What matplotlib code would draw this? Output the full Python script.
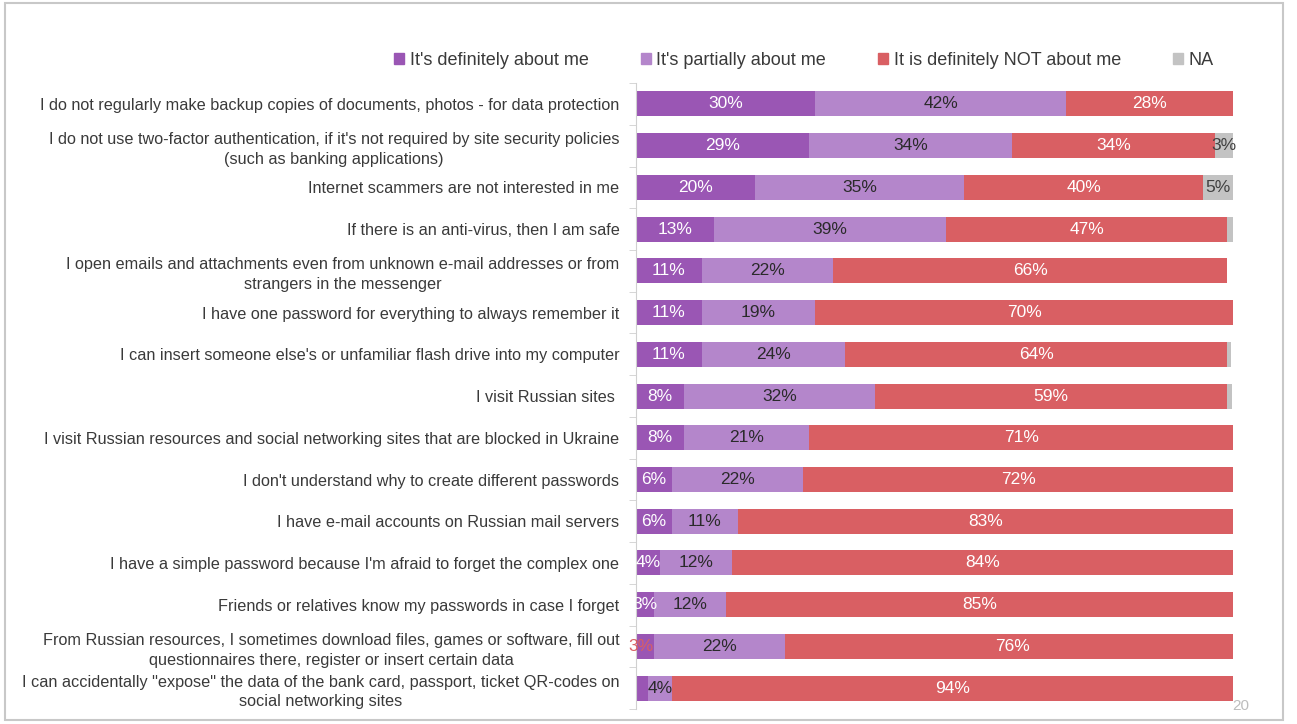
import matplotlib.pyplot as plt
import matplotlib.patches as mpatches
import numpy as np

plt.rcParams['font.family'] = ['Liberation Sans', 'DejaVu Sans']

# survey statements, top to bottom
statements = [
    "I do not regularly make backup copies of documents, photos - for data protection",
    "I do not use two-factor authentication, if it's not required by site security policies\n(such as banking applications)",
    "Internet scammers are not interested in me",
    "If there is an anti-virus, then I am safe",
    "I open emails and attachments even from unknown e-mail addresses or from\nstrangers in the messenger",
    "I have one password for everything to always remember it",
    "I can insert someone else's or unfamiliar flash drive into my computer",
    "I visit Russian sites ",
    "I visit Russian resources and social networking sites that are blocked in Ukraine",
    "I don't understand why to create different passwords",
    "I have e-mail accounts on Russian mail servers",
    "I have a simple password because I'm afraid to forget the complex one",
    "Friends or relatives know my passwords in case I forget",
    "From Russian resources, I sometimes download files, games or software, fill out\nquestionnaires there, register or insert certain data",
    "I can accidentally \"expose\" the data of the bank card, passport, ticket QR-codes on\nsocial networking sites",
]

definitely = [30, 29, 20, 13, 11, 11, 11, 8, 8, 6, 6, 4, 3, 3, 2]
partially = [42, 34, 35, 39, 22, 19, 24, 32, 21, 22, 11, 12, 12, 22, 4]
not_me = [28, 34, 40, 47, 66, 70, 64, 59, 71, 72, 83, 84, 85, 76, 94]
na = [0, 3, 5, 1, 0, 0, 0.7, 0.8, 0, 0, 0, 0, 0, 0, 0.3]

series_names = ["It's definitely about me", "It's partially about me",
                "It is definitely NOT about me", "NA"]
colors = ['#9a56b4', '#b486cb', '#d95f63', '#c3c3c3']
label_colors = ['white', '#2a2a2a', 'white', '#404040']

fig = plt.figure(figsize=(12.97, 7.24), dpi=100)
ax = fig.add_axes([0.4904, 0.0207, 0.4603, 0.8645])

y = np.arange(len(statements))
left = np.zeros(len(statements))
for k, vals in enumerate([definitely, partially, not_me, na]):
    vals = np.array(vals, dtype=float)
    ax.barh(y, vals, left=left, height=0.6, color=colors[k],
            label=series_names[k], zorder=2)
    for i, v in enumerate(vals):
        # shares under 2.5% are left without a label
        if v < 2.5:
            continue
        col = label_colors[k]
        xpos = left[i] + v / 2
        if k == 0 and i == 13:
            col = '#d95f63'
            xpos = left[i] + 0.8
        ax.text(xpos, y[i], f"{v:.0f}%", ha='center', va='center',
                fontsize=12.5, color=col, zorder=3)
    left += vals

ax.set_xlim(0, 100)
ax.set_ylim(len(statements) - 0.5, -0.5)
ax.set_yticks(y)
ax.set_yticklabels(statements, fontsize=11.7, color='#3a3a3a',
                   multialignment='center', linespacing=1.4)
ax.tick_params(axis='y', length=0, pad=12)
ax.set_yticks(np.arange(-0.5, len(statements), 1), minor=True)
ax.tick_params(axis='y', which='minor', length=5, color='#d0d0d0')
ax.set_xticks([])
for s in ['top', 'right', 'bottom']:
    ax.spines[s].set_visible(False)
ax.spines['left'].set_color('#d0d0d0')

handles = [mpatches.Patch(color=c) for c in colors]
fig.legend(handles, series_names, loc='center', bbox_to_anchor=(0.62, 0.917),
           ncol=4, frameon=False, fontsize=13, handlelength=0.55,
           handleheight=0.55, handletextpad=0.3, columnspacing=2.9,
           labelcolor='#3a3a3a')

# slide frame and page number
fig.patches.append(mpatches.Rectangle((0.004, 0.006), 0.985, 0.99,
                                      transform=fig.transFigure, fill=False,
                                      edgecolor='#c8c8c8', linewidth=1.5))
fig.text(0.957, 0.02, "20", fontsize=11, color='#bdbdbd', ha='center')

fig.savefig('out.png', dpi=100)
